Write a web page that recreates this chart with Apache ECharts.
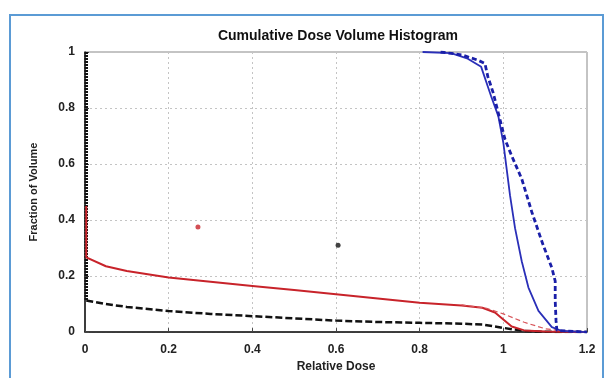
<!DOCTYPE html>
<html>
<head>
<meta charset="utf-8">
<script src="https://cdn.jsdelivr.net/npm/echarts@6/dist/echarts.min.js"></script>
<style>
  html, body { margin: 0; padding: 0; background: #fff; }
  #chart { width: 612px; height: 378px; }
</style>
</head>
<body>
<div id="chart"></div>
<script>
// 数据 (dose, fraction of volume)
const xTicks = [0, 0.2, 0.4, 0.6, 0.8, 1, 1.2]
const yTicks = [0, 0.2, 0.4, 0.6, 0.8, 1]

const blueSolid = [
    [0.807, 1.0], [0.875, 0.996], [0.915, 0.976], [0.947, 0.947], [0.971, 0.841],
    [0.988, 0.771], [1.0, 0.676], [1.008, 0.582], [1.016, 0.488], [1.028, 0.371],
    [1.044, 0.253], [1.06, 0.159], [1.084, 0.076], [1.116, 0.018], [1.14, 0.004], [1.2, 0]
]
const blueDashed = [
    [0.85, 1.0], [0.9, 0.99], [0.939, 0.971], [0.956, 0.959], [0.963, 0.912], [0.976, 0.853],
    [0.988, 0.782], [1.004, 0.688], [1.02, 0.629], [1.044, 0.547], [1.068, 0.429],
    [1.092, 0.324], [1.116, 0.229], [1.124, 0.182], [1.124, 0.112], [1.126, 0.04],
    [1.128, 0.006], [1.2, 0]
]
const redSolid = [
    [0.003, 0.45], [0.003, 0.267], [0.05, 0.235], [0.1, 0.218], [0.2, 0.195], [0.3, 0.18],
    [0.4, 0.165], [0.5, 0.15], [0.6, 0.135], [0.7, 0.12], [0.8, 0.105], [0.9, 0.095],
    [0.95, 0.087], [0.98, 0.07], [1.0, 0.045], [1.02, 0.02], [1.05, 0.006], [1.1, 0.002], [1.2, 0]
]
const redDashed = [
    [0.9, 0.097], [0.96, 0.085], [1.0, 0.065], [1.05, 0.035], [1.1, 0.012], [1.15, 0.003], [1.2, 0]
]
const blackWall = [[0.003, 1.0], [0.003, 0.113]]
const blackDashed = [
    [0.003, 0.113], [0.05, 0.1], [0.1, 0.09], [0.2, 0.075], [0.3, 0.065], [0.4, 0.057],
    [0.5, 0.049], [0.6, 0.041], [0.7, 0.036], [0.8, 0.033], [0.9, 0.03], [0.95, 0.027],
    [1.0, 0.015], [1.05, 0.004], [1.1, 0.001], [1.2, 0]
]
const outliers = [
    { value: [0.27, 0.375], color: '#c8232a' },
    { value: [0.605, 0.31], color: '#111' }
]

let myChart = echarts.init(document.getElementById('chart'))

const labelStyle = {
    color: '#222',
    fontSize: 12,
    fontWeight: 'bold',
    fontFamily: 'Liberation Sans'
}
const gridLine = {
    show: true,
    lineStyle: { color: '#c4c4c4', type: [2, 3], width: 1 }
}

let option = {
    animation: false,
    title: {
        text: 'Cumulative Dose Volume Histogram',
        left: 333,
        top: 24,
        textAlign: 'center',
        textStyle: { fontSize: 14, fontWeight: 'bold', color: '#111', fontFamily: 'Liberation Sans' }
    },
    graphic: [{
        type: 'rect',
        shape: { x: 10, y: 15, width: 593, height: 380 },
        style: { fill: 'none', stroke: '#5b9bd5', lineWidth: 2 }
    }],
    grid: {
        left: 85, right: 25, top: 52, bottom: 40,
        show: true,
        borderColor: '#888',
        borderWidth: 1
    },
    xAxis: {
        type: 'value',
        min: 0, max: 1.2, interval: 0.2,
        name: 'Relative Dose',
        nameLocation: 'middle',
        nameGap: 26,
        nameTextStyle: { fontSize: 12, fontWeight: 'bold', color: '#222', fontFamily: 'Liberation Sans' },
        axisLine: { show: true, lineStyle: { color: '#111', width: 1.5 } },
        axisTick: { show: true, inside: true, length: 4, lineStyle: { color: '#444' } },
        axisLabel: Object.assign({ margin: 12, formatter: v => xTicks.includes(+v.toFixed(1)) ? String(+v.toFixed(1)) : '' }, labelStyle),
        splitLine: gridLine
    },
    yAxis: {
        type: 'value',
        min: 0, max: 1, interval: 0.2,
        name: 'Fraction of Volume',
        nameLocation: 'middle',
        nameGap: 46,
        nameTextStyle: { fontSize: 11, fontWeight: 'bold', color: '#222', fontFamily: 'Liberation Sans' },
        axisLine: { show: true, lineStyle: { color: '#111', width: 1.5 } },
        axisTick: { show: true, inside: true, length: 4, lineStyle: { color: '#444' } },
        axisLabel: Object.assign({ margin: 10, formatter: v => yTicks.includes(+v.toFixed(1)) ? String(+v.toFixed(1)) : '' }, labelStyle),
        splitLine: gridLine
    },
    series: [
        {
            type: 'line', data: blackWall, showSymbol: false,
            lineStyle: { color: '#111', width: 3.5, type: [2, 1] }
        },
        {
            type: 'line', data: blackDashed, showSymbol: false,
            lineStyle: { color: '#111', width: 2.5, type: [7, 3] }
        },
        {
            type: 'line', data: redSolid, showSymbol: false,
            lineStyle: { color: '#c8232a', width: 2 }
        },
        {
            type: 'line', data: redDashed, showSymbol: false,
            lineStyle: { color: '#d8555a', width: 1.2, type: [5, 3] }
        },
        {
            type: 'line', data: blueSolid, showSymbol: false,
            lineStyle: { color: '#2a2fb8', width: 1.8 }
        },
        {
            type: 'line', data: blueDashed, showSymbol: false,
            lineStyle: { color: '#1a1fa8', width: 2.8, type: [5, 3] }
        },
        {
            type: 'scatter',
            data: outliers.map(p => ({ value: p.value, itemStyle: { color: p.color } })),
            symbolSize: 5
        }
    ]
}

myChart.setOption(option)
</script>
</body>
</html>
